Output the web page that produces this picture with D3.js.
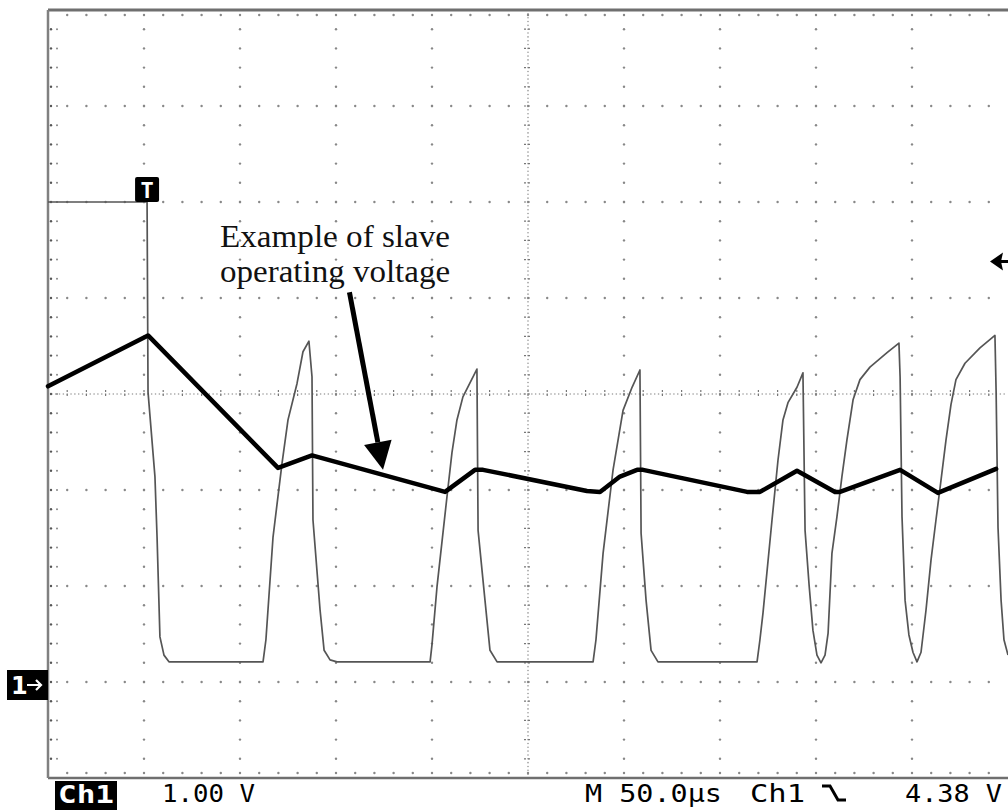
<!DOCTYPE html>
<html>
<head>
<meta charset="utf-8">
<script src="https://cdn.jsdelivr.net/npm/d3@7"></script>
<style>
  html, body { margin: 0; padding: 0; background: #fff; }
  svg { display: block; }
</style>
</head>
<body>
<svg id="scope" width="1008" height="810"></svg>
<script>
// thin trace: measured signal (time in µs, level in V)
const signalT = [0, 51.6, 52.1, 55.7, 56.8, 58.3, 60.4, 63.0, 112.0, 113.5, 117.2, 121.9, 125.0, 129.7, 132.8, 135.9,
  137.5, 138.0, 141.7, 143.8, 146.9, 150.5, 199.0, 200.0, 202.6, 207.8, 210.4, 213.0, 216.1, 223.4,
  224.0, 227.6, 230.2, 233.9, 283.9, 285.4, 289.1, 294.3, 299.5, 304.2, 308.3,
  308.9, 311.5, 314.1, 317.7, 369.3, 370.8, 372.4, 377.1, 380.2, 382.8, 385.4, 390.1, 393.2,
  394.3, 396.4, 398.4, 400.5, 402.6, 404.7, 406.3, 408.3, 410.9, 413.5, 416.1, 419.3, 422.9, 428.1, 437.0, 443.2,
  443.8, 444.8, 446.4, 448.4, 450.5, 452.6, 454.7, 457.3, 459.9, 462.5, 465.1, 467.7, 470.3, 472.9, 477.6, 485.4, 493.2,
  493.8, 494.8, 496.4, 497.9, 500];
const signalV = [5.0, 5.0, 3.02, 2.14, 1.51, 0.47, 0.28, 0.21, 0.21, 0.44, 1.51, 2.28, 2.73, 3.11, 3.44, 3.55,
  3.18, 1.69, 0.75, 0.33, 0.23, 0.21, 0.21, 0.39, 0.99, 1.93, 2.39, 2.73, 2.97, 3.26,
  1.58, 0.85, 0.33, 0.21, 0.21, 0.44, 1.34, 2.21, 2.83, 3.07, 3.25,
  1.55, 0.85, 0.33, 0.21, 0.21, 0.44, 0.72, 1.69, 2.31, 2.73, 2.91, 3.07, 3.22,
  1.58, 1.01, 0.54, 0.28, 0.20, 0.28, 0.51, 1.34, 1.72, 2.14, 2.52, 2.94, 3.15, 3.28, 3.43, 3.53,
  3.18, 1.72, 0.85, 0.49, 0.31, 0.21, 0.31, 0.75, 1.27, 1.69, 2.10, 2.52, 2.89, 3.15, 3.32, 3.48, 3.61,
  3.04, 1.61, 0.85, 0.44, 0.28];

// thick trace: slave operating voltage (drawn over the capture)
const slaveT = [0, 52.1, 119.8, 137.5, 206.8, 222.4, 226.6, 280.7, 287.5, 297.9, 306.8, 309.9,
  364.1, 370.8, 390.1, 409.9, 412.5, 443.8, 463.5, 493.8];
const slaveV = [3.08, 3.61, 2.23, 2.36, 1.98, 2.21, 2.21, 1.99, 1.98, 2.14, 2.21, 2.21,
  1.98, 1.98, 2.20, 1.98, 1.98, 2.21, 1.97, 2.22];

const noteLines = ["Example of slave", "operating voltage"];
const noteArrowT = [157, 174.5];
const noteArrowV = [4.06, 2.21];

const triggerTime = 51.6;
const triggerLevel = 4.38;
const statusLabels = ["1.00 V", "M 50.0µs", "Ch1", "4.38 V"];

const svg = d3.select("#scope");

const X_DIVS = 10, Y_DIVS = 8;
const x = d3.scaleLinear().domain([0, 500]).range([48, 1008]);
const y = d3.scaleLinear().domain([-1, 7]).range([778, 10]);

const pLeft = x(0), pRight = x(500), pTop = y(7), pBottom = y(-1);
const divW = (pRight - pLeft) / X_DIVS;
const divH = (pBottom - pTop) / Y_DIVS;

const grid = svg.append("g");
const DOT = "#888";

// dotted graticule
for (let i = 1; i < X_DIVS; i++) {
  const gx = pLeft + i * divW;
  if (i === X_DIVS / 2) continue;
  for (let k = 1; k < Y_DIVS * 5; k++) {
    grid.append("circle").attr("cx", gx).attr("cy", pTop + k * divH / 5).attr("r", 1.2).attr("fill", DOT);
  }
}
for (let j = 1; j < Y_DIVS; j++) {
  const gy = pTop + j * divH;
  if (j === Y_DIVS / 2) continue;
  for (let k = 1; k < X_DIVS * 5; k++) {
    grid.append("circle").attr("cx", pLeft + k * divW / 5).attr("cy", gy).attr("r", 1.2).attr("fill", DOT);
  }
}

// center cross with fine dots and ticks
const cx = pLeft + divW * X_DIVS / 2, cy = pTop + divH * Y_DIVS / 2;
for (let k = 1; k < X_DIVS * 25; k++) {
  const px = pLeft + k * divW / 25;
  grid.append("circle").attr("cx", px).attr("cy", cy).attr("r", 0.8).attr("fill", "#999");
  if (k % 5 === 0) {
    grid.append("line").attr("x1", px).attr("x2", px).attr("y1", cy - 4).attr("y2", cy + 4)
      .attr("stroke", "#777").attr("stroke-width", 1.2).attr("stroke-dasharray", "2,2");
  }
}
for (let k = 1; k < Y_DIVS * 25; k++) {
  const py = pTop + k * divH / 25;
  grid.append("circle").attr("cx", cx).attr("cy", py).attr("r", 0.8).attr("fill", "#999");
  if (k % 5 === 0) {
    grid.append("line").attr("x1", cx - 4).attr("x2", cx + 4).attr("y1", py).attr("y2", py)
      .attr("stroke", "#777").attr("stroke-width", 1.2).attr("stroke-dasharray", "2,2");
  }
}

// border ticks
for (let k = 1; k < Y_DIVS * 5; k++) {
  const py = pTop + k * divH / 5;
  grid.append("circle").attr("cx", pLeft + 3).attr("cy", py).attr("r", 1.2).attr("fill", "#555");
  grid.append("circle").attr("cx", pLeft + 9).attr("cy", py).attr("r", 1).attr("fill", DOT);
}
for (let k = 1; k < X_DIVS * 5; k++) {
  const px = pLeft + k * divW / 5;
  grid.append("circle").attr("cx", px).attr("cy", pTop + 5).attr("r", 1.2).attr("fill", DOT);
  grid.append("circle").attr("cx", px).attr("cy", pBottom - 5).attr("r", 1.2).attr("fill", DOT);
}

// frame
grid.append("line").attr("x1", pLeft).attr("x2", pRight).attr("y1", pTop).attr("y2", pTop)
  .attr("stroke", "#6f6f6f").attr("stroke-width", 3);
grid.append("line").attr("x1", pLeft).attr("x2", pRight).attr("y1", pBottom).attr("y2", pBottom)
  .attr("stroke", "#6f6f6f").attr("stroke-width", 2.5);
grid.append("line").attr("x1", pLeft).attr("x2", pLeft).attr("y1", pTop).attr("y2", pBottom)
  .attr("stroke", "#808080").attr("stroke-width", 2.5);

// traces
const line = d3.line().x((d) => x(d[0])).y((d) => y(d[1]));

svg.append("path")
  .datum(signalT.map((t, i) => [t, signalV[i]]))
  .attr("d", line)
  .attr("fill", "none")
  .attr("stroke", "#555")
  .attr("stroke-width", 1.7)
  .attr("stroke-linejoin", "round");

svg.append("path")
  .datum(slaveT.map((t, i) => [t, slaveV[i]]))
  .attr("d", line)
  .attr("fill", "none")
  .attr("stroke", "#000")
  .attr("stroke-width", 4.5)
  .attr("stroke-linejoin", "round")
  .attr("stroke-linecap", "round");

// annotation
noteLines.forEach((txt, i) => {
  svg.append("text")
    .attr("x", x(89.6))
    .attr("y", y(4.53) + i * 35)
    .attr("font-family", "'Liberation Serif', 'DejaVu Serif', serif")
    .attr("font-size", 31)
    .attr("textLength", 230)
    .attr("lengthAdjust", "spacingAndGlyphs")
    .attr("fill", "#111")
    .text(txt);
});

const ax0 = x(noteArrowT[0]), ay0 = y(noteArrowV[0]);
const ax1 = x(noteArrowT[1]), ay1 = y(noteArrowV[1]);
const len = Math.hypot(ax1 - ax0, ay1 - ay0);
const ux = (ax1 - ax0) / len, uy = (ay1 - ay0) / len;
const headLen = 28, headHalf = 14;
const bx = ax1 - ux * headLen, by = ay1 - uy * headLen;
svg.append("line")
  .attr("x1", ax0).attr("y1", ay0).attr("x2", bx).attr("y2", by)
  .attr("stroke", "#000").attr("stroke-width", 5);
svg.append("path")
  .attr("d", `M${ax1},${ay1}L${bx - uy * headHalf},${by + ux * headHalf}L${bx + uy * headHalf},${by - ux * headHalf}Z`)
  .attr("fill", "#000");

// trigger position marker
const tx = x(triggerTime);
svg.append("rect").attr("x", tx - 12).attr("y", pTop + 167).attr("width", 24).attr("height", 25)
  .attr("rx", 2).attr("fill", "#000");
svg.append("text").attr("x", tx).attr("y", pTop + 188).attr("text-anchor", "middle")
  .attr("font-family", "'DejaVu Sans Mono', monospace").attr("font-weight", "bold")
  .attr("font-size", 22).attr("fill", "#fff").text("T");

// trigger level marker on right edge
const ty = y(triggerLevel);
svg.append("path")
  .attr("d", `M${pRight - 18},${ty}L${pRight - 5},${ty - 9}L${pRight - 7},${ty}L${pRight - 5},${ty + 9}Z`)
  .attr("fill", "#000");
svg.append("line").attr("x1", pRight - 10).attr("x2", pRight).attr("y1", ty).attr("y2", ty)
  .attr("stroke", "#000").attr("stroke-width", 3);

// ground marker
const gy0 = y(0);
svg.append("rect").attr("x", 7).attr("y", gy0 - 12).attr("width", pLeft - 7).attr("height", 30).attr("fill", "#000");
svg.append("text").attr("x", 11).attr("y", gy0 + 12)
  .attr("font-family", "'DejaVu Sans', sans-serif").attr("font-weight", "bold")
  .attr("font-size", 24).attr("fill", "#fff").text("1");
svg.append("path")
  .attr("d", `M${27},${gy0 + 3}L${41},${gy0 + 3}M${36},${gy0 - 2}L${41},${gy0 + 3}L${36},${gy0 + 8}`)
  .attr("stroke", "#fff").attr("stroke-width", 2.2).attr("fill", "none");

// status line
const status = svg.append("g")
  .attr("font-family", "'DejaVu Sans Mono', monospace")
  .attr("font-size", 25)
  .attr("fill", "#000");

status.append("rect").attr("x", 55).attr("y", 781).attr("width", 62).attr("height", 29).attr("fill", "#000");
status.append("text").attr("x", 58).attr("y", 803).attr("fill", "#fff").attr("font-weight", "bold")
  .attr("textLength", 56).attr("lengthAdjust", "spacingAndGlyphs").text("Ch1");

const statusPos = [[162, 93], [585, 137], [750, 55], [905, 97]];
statusLabels.forEach((txt, i) => {
  status.append("text")
    .attr("x", statusPos[i][0]).attr("y", 802)
    .attr("textLength", statusPos[i][1]).attr("lengthAdjust", "spacingAndGlyphs")
    .text(txt);
});

// falling edge symbol
status.append("path")
  .attr("d", "M822,786L830,786L838,800L846,800")
  .attr("stroke", "#000").attr("stroke-width", 3).attr("fill", "none");
</script>
</body>
</html>
